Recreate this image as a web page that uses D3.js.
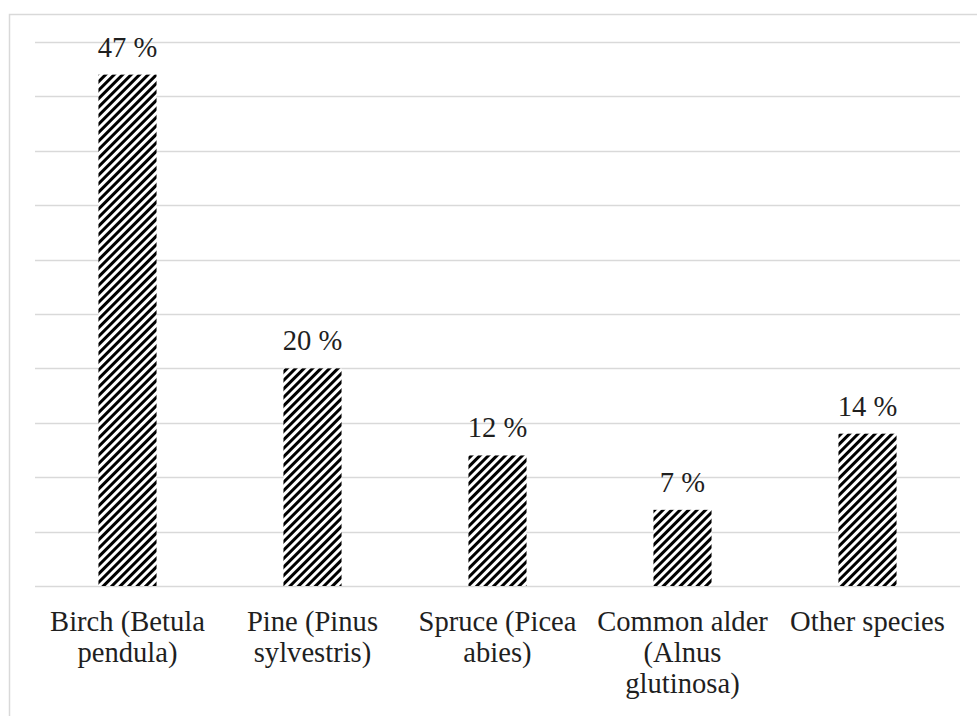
<!DOCTYPE html>
<html><head><meta charset="utf-8">
<script src="https://cdn.jsdelivr.net/npm/d3@7"></script>
<style>body{margin:0;background:#fff}svg{display:block}
svg text{font-family:"Liberation Serif","Times New Roman",Times,"DejaVu Serif",serif;}</style>
</head><body>
<svg id="c" width="977" height="716"></svg>
<script>
const categories = ["Birch (Betula pendula)", "Pine (Pinus sylvestris)", "Spruce (Picea abies)", "Common alder (Alnus glutinosa)", "Other species"];
const values = [47, 20, 12, 7, 14];
const labels = ["47 %", "20 %", "12 %", "7 %", "14 %"];
const yTicks = [0, 5, 10, 15, 20, 25, 30, 35, 40, 45, 50];

const svg = d3.select("#c");
const W = 977, H = 716;
const m = {left: 35, right: 17, top: 42, bottom: 130};
const fs = 28.6;

// outer border
svg.append("rect").attr("x", 9.5).attr("y", 14.5).attr("width", 980).attr("height", 720)
  .attr("fill", "none").attr("stroke", "#d9d9d9").attr("stroke-width", 1.5);

const defs = svg.append("defs");
const pat = defs.append("pattern").attr("id", "hatch").attr("patternUnits", "userSpaceOnUse")
  .attr("width", 6).attr("height", 6).attr("patternTransform", "rotate(45)");
pat.append("rect").attr("width", 6).attr("height", 6).attr("fill", "#fff");
pat.append("rect").attr("x", 0).attr("y", 0).attr("width", 3).attr("height", 6).attr("fill", "#000");

const x = d3.scaleBand().domain(categories).range([m.left, W - m.right]).paddingInner(0.686).paddingOuter(0.343);
const y = d3.scaleLinear().domain([0, 50]).range([586, 42]);

// gridlines
svg.append("g").selectAll("line").data(yTicks).join("line")
  .attr("x1", m.left).attr("x2", 960)
  .attr("y1", d => Math.round(y(d)) + 0.5).attr("y2", d => Math.round(y(d)) + 0.5)
  .attr("stroke", "#d9d9d9").attr("stroke-width", 1.5);

// bars
svg.append("g").selectAll("rect").data(values).join("rect")
  .attr("x", (d, i) => x(categories[i]))
  .attr("width", x.bandwidth())
  .attr("y", d => y(d))
  .attr("height", d => y(0) - y(d))
  .attr("fill", "url(#hatch)");

// value labels
svg.append("g").selectAll("text").data(values).join("text")
  .attr("x", (d, i) => x(categories[i]) + x.bandwidth() / 2)
  .attr("y", d => y(d) - 18)
  .attr("text-anchor", "middle")
  .style("font-size", fs + "px").attr("fill", "#1f1f1f")
  .text((d, i) => labels[i]);

// category labels with wrapping
const maxW = 182;
const cg = svg.append("g");
categories.forEach(cat => {
  const t = cg.append("text").attr("text-anchor", "middle")
    .style("font-size", fs + "px").attr("fill", "#1f1f1f");
  const cx = x(cat) + x.bandwidth() / 2;
  const words = cat.split(" ");
  let lines = [], cur = [];
  const probe = svg.append("text").style("font-size", fs + "px");
  words.forEach(w => {
    const test = cur.concat([w]).join(" ");
    probe.text(test);
    if (cur.length && probe.node().getComputedTextLength() > maxW) { lines.push(cur.join(" ")); cur = [w]; }
    else cur.push(w);
  });
  lines.push(cur.join(" "));
  probe.remove();
  lines.forEach((l, i) => {
    t.append("tspan").attr("x", cx).attr("y", 631 + i * 31).text(l);
  });
});
</script>
</body></html>
